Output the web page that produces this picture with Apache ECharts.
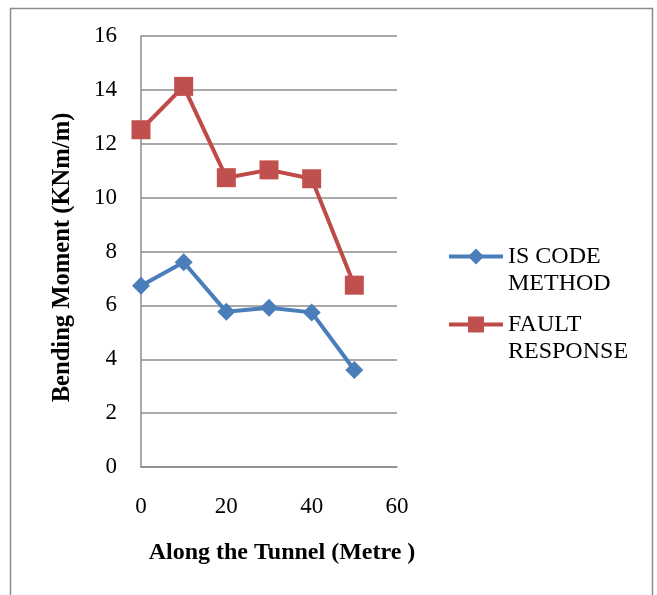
<!DOCTYPE html>
<html>
<head>
<meta charset="utf-8">
<script src="https://cdn.jsdelivr.net/npm/echarts@6/dist/echarts.min.js"></script>
<style>
  html, body { margin: 0; padding: 0; background: #fff; }
  #chart { width: 657px; height: 595px; }
</style>
</head>
<body>
<div id="chart"></div>
<script>
// Distance along the tunnel (m)
const distance = [0, 10, 20, 30, 40, 50];
// Bending moment (KNm/m)
const isCodeMethod = [6.73, 7.6, 5.76, 5.91, 5.74, 3.6];
const faultResponse = [12.52, 14.13, 10.74, 11.03, 10.7, 6.75];
const seriesNames = ['IS CODE\nMETHOD', 'FAULT\nRESPONSE'];
const xTicks = [0, 20, 40, 60];
const yTicks = [0, 2, 4, 6, 8, 10, 12, 14, 16];

const pairs = (xs, ys) => xs.map((x, i) => [x, ys[i]]);
const serif = '"Liberation Serif", "Times New Roman", serif';
const gray = '#8c8c8c';

const chart = echarts.init(document.getElementById('chart'));
chart.setOption({
  animation: false,
  backgroundColor: '#fff',
  graphic: [{
    type: 'rect',
    shape: { x: 10.5, y: 8.5, width: 642, height: 600 },
    style: { fill: 'none', stroke: gray, lineWidth: 1.5 },
    silent: true
  }],
  grid: { left: 141, right: 260, top: 36, bottom: 128 },
  xAxis: {
    type: 'value',
    min: xTicks[0], max: xTicks[xTicks.length - 1], interval: 20,
    name: 'Along the Tunnel (Metre )',
    nameLocation: 'middle',
    nameGap: 74,
    nameTextStyle: {
      fontFamily: serif, fontWeight: 'bold', fontSize: 24, color: '#000',
      padding: [0, 0, 0, 26]
    },
    axisLine: { show: true, lineStyle: { color: gray, width: 1.5 } },
    axisTick: { show: false },
    axisLabel: { fontFamily: serif, fontSize: 23, color: '#000', margin: 28 },
    splitLine: { show: false }
  },
  yAxis: {
    type: 'value',
    min: yTicks[0], max: yTicks[yTicks.length - 1], interval: 2,
    name: 'Bending Moment (KNm/m)',
    nameLocation: 'middle',
    nameGap: 66,
    nameTextStyle: {
      fontFamily: serif, fontWeight: 'bold', fontSize: 24.6, color: '#000',
      padding: [0, 12, 0, 0]
    },
    axisLine: { show: true, lineStyle: { color: gray, width: 1.5 } },
    axisTick: { show: false },
    axisLabel: { fontFamily: serif, fontSize: 23, color: '#000', margin: 24 },
    splitLine: { show: true, lineStyle: { color: gray, width: 1.5 } }
  },
  legend: {
    orient: 'vertical',
    left: 447,
    top: 216,
    padding: 0,
    itemWidth: 54,
    itemHeight: 20,
    itemGap: -13,
    lineStyle: { width: 4 },
    // leading blank line keeps the first text line level with the icon
    formatter: name => '\n' + name,
    textStyle: { fontFamily: serif, fontSize: 24, color: '#000', lineHeight: 27 },
    data: seriesNames
  },
  series: [
    {
      name: seriesNames[0],
      type: 'line',
      data: pairs(distance, isCodeMethod),
      symbol: 'diamond',
      symbolSize: 18,
      lineStyle: { color: '#4A7EBB', width: 4 },
      itemStyle: { color: '#4A7EBB' }
    },
    {
      name: seriesNames[1],
      type: 'line',
      data: pairs(distance, faultResponse),
      symbol: 'rect',
      symbolSize: 19,
      lineStyle: { color: '#BE4B48', width: 4 },
      itemStyle: { color: '#C0504D' }
    }
  ]
});
</script>
</body>
</html>
